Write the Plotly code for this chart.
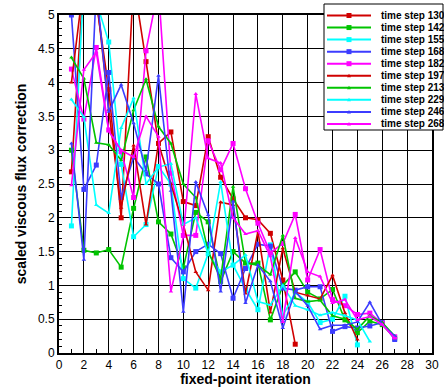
import plotly.graph_objects as go

iterations = [1, 2, 3, 4, 5, 6, 7, 8, 9, 10, 11, 12, 13, 14, 15, 16, 17, 18, 19, 20,
              21, 22, 23, 24, 25, 26, 27]

ts130 = [2.68, 5.6, 5.2, 3.9, 2.0, 5.5, 4.31, 3.1, 3.27, 2.24, 2.18, 3.2, 2.6, 2.28, 2.0,
         1.97, 1.77, 1.08, 0.13]
ts142 = [3.0, 1.52, 1.48, 1.53, 1.27, 2.14, 2.9, 1.94, 1.76, 1.26, 2.08, 1.94, 1.06, 1.5,
         1.33, 1.33, 0.49, 1.0, 1.2, 0.9, 0.8, 0.94, 0.49, 0.3, 0.47, 0.42, 0.22]
ts155 = [1.88, 5.5, 5.2, 4.6, 2.79, 1.72, 1.9, 2.76, 2.5, 1.1, 0.96, 1.47, 1.2, 1.3, 0.95,
         0.64, 1.6, 0.55, 0.9, 0.75, 0.45, 0.5, 0.84, 0.12]
ts168 = [5.0, 2.42, 2.78, 4.15, 2.3, 2.9, 2.65, 2.5, 1.41, 1.2, 1.5, 1.61, 1.47, 0.81, 1.25,
         1.61, 1.58, 0.96, 0.93, 0.98, 0.98, 0.32, 0.39, 0.37, 0.4, 0.45, 0.2]
ts182 = [4.2, 3.46, 4.52, 3.3, 2.98, 2.3, 4.47, 5.4, 2.66, 1.74, 1.74, 3.14, 2.71, 3.1, 2.43,
         1.92, 1.48, 1.62, 2.05, 1.08, 1.53, 0.79, 0.7, 0.57, 0.59, 0.44, 0.24]
ts197 = [4.0, 5.5, 5.3, 3.6, 2.15, 3.07, 1.9, 3.1, 2.5, 1.9, 1.2, 0.93, 2.23, 2.19, 0.88,
         1.8, 0.6, 1.55, 0.9, 0.85, 0.8, 1.15, 0.59, 0.2]
ts213 = [4.37, 4.06, 3.11, 3.08, 2.85, 3.59, 4.05, 3.35, 3.1, 2.5, 2.3, 1.5, 1.1, 2.46, 1.33,
         1.3, 1.16, 1.74, 0.81, 0.76, 0.78, 0.55, 0.5, 0.35, 0.55, 0.45, 0.25]
ts229 = [3.75, 3.49, 2.19, 2.07, 3.33, 3.77, 2.5, 2.75, 2.8, 1.9, 2.0, 1.47, 2.53, 1.3, 1.45,
         0.76, 0.71, 1.0, 0.7, 0.64, 0.56, 0.6, 0.55, 0.49, 0.17]
ts246 = [3.1, 1.38, 5.4, 3.57, 3.97, 3.4, 2.7, 4.1, 2.4, 0.61, 2.53, 2.04, 0.91, 2.24, 0.74,
         1.3, 1.06, 0.37, 0.91, 0.7, 0.35, 0.41, 0.41, 0.46, 0.75, 0.42, 0.25]
ts268 = [2.48, 4.19, 4.45, 3.28, 3.0, 2.9, 3.5, 3.2, 0.91, 1.72, 3.83, 2.88, 2.81, 2.0, 1.76,
         1.81, 1.43, 0.46, 1.7, 1.2, 1.13, 0.74, 0.79, 0.49, 0.54, 0.42, 0.22]

names = ["time step 130", "time step 142", "time step 155", "time step 168", "time step 182",
         "time step 197", "time step 213", "time step 229", "time step 246", "time step 268"]
series = [ts130, ts142, ts155, ts168, ts182, ts197, ts213, ts229, ts246, ts268]

RED, GREEN, CYAN, BLUE, MAG = "#d00000", "#00c400", "#00ffff", "#3c3cff", "#ff00ff"
colors = [RED, GREEN, CYAN, BLUE, MAG, RED, GREEN, CYAN, BLUE, MAG]
symbols = ["square"] * 5 + ["triangle-up"] * 5
msizes = [5] * 5 + [4] * 5

FONT = "Liberation Sans, Arial, sans-serif"
W, H = 444, 387
ML, MR, MT, MB = 59, 12, 15, 34
PW, PH = W - ML - MR, H - MT - MB

fig = go.Figure()
for name, vals, c, s, ms in zip(names, series, colors, symbols, msizes):
    fig.add_trace(go.Scatter(
        x=iterations[:len(vals)], y=vals, name=name, mode="lines+markers",
        line=dict(color=c, width=1.6),
        marker=dict(symbol=s, size=ms, color=c),
        showlegend=False,
    ))

axis_common = dict(
    showline=True, linewidth=2, linecolor="black", mirror=True, automargin=False,
    showgrid=True, gridcolor="black", gridwidth=1, zeroline=False,
    ticks="inside", tickcolor="black", tickfont=dict(family=FONT, size=12, color="black"),
)
fig.update_xaxes(range=[0, 30], dtick=2, tick0=0, ticklen=4,
                 minor=dict(dtick=1, ticks="inside", ticklen=4, tickcolor="black", showgrid=False),
                 title=dict(text="fixed-point iteration", standoff=0,
                            font=dict(family=FONT, size=14, color="black", weight="bold")),
                 **axis_common)
fig.update_yaxes(range=[0, 5], dtick=0.5, tick0=0, ticklen=3,
                 minor=dict(dtick=0.1, ticks="inside", ticklen=3, tickcolor="black", showgrid=False),
                 title=dict(text="scaled viscous flux correction", standoff=8,
                            font=dict(family=FONT, size=14, color="black", weight="bold")),
                 **axis_common)

# custom compact legend (drawn in paper coordinates)
def px2x(px):
    return (px - ML) / PW

def py2y(py):
    return (H - MB - py) / PH

shapes = [dict(type="rect", xref="paper", yref="paper",
               x0=px2x(324), x1=px2x(443), y0=py2y(130), y1=py2y(4),
               line=dict(color="black", width=1), fillcolor="white", layer="above")]
annotations = []
row0, rowstep = 15.5, 12.05
for i, (name, c, s) in enumerate(zip(names, colors, symbols)):
    py = row0 + i * rowstep
    shapes.append(dict(type="line", xref="paper", yref="paper",
                       x0=px2x(327), x1=px2x(371), y0=py2y(py), y1=py2y(py),
                       line=dict(color=c, width=2), layer="above"))
    if s == "square":
        shapes.append(dict(type="rect", xref="paper", yref="paper",
                           xsizemode="pixel", ysizemode="pixel",
                           xanchor=px2x(349), yanchor=py2y(py),
                           x0=-2.5, x1=2.5, y0=-2.5, y1=2.5,
                           line=dict(width=0), fillcolor=c, layer="above"))
    else:
        shapes.append(dict(type="path", xref="paper", yref="paper",
                           xsizemode="pixel", ysizemode="pixel",
                           xanchor=px2x(349), yanchor=py2y(py),
                           path="M -2 -1.5 L 2 -1.5 L 0 2 Z",
                           line=dict(width=0), fillcolor=c, layer="above"))
    annotations.append(dict(xref="paper", yref="paper", x=px2x(379), y=py2y(py),
                            xanchor="left", yanchor="middle", showarrow=False,
                            text=name, font=dict(family=FONT, size=10, color="black", weight="bold")))

fig.update_layout(
    width=W, height=H,
    margin=dict(l=ML, r=MR, t=MT, b=MB, pad=0, autoexpand=False),
    paper_bgcolor="white", plot_bgcolor="white",
    shapes=shapes, annotations=annotations,
    font=dict(family=FONT, color="black"),
)

fig.write_html("out.html", config={"displayModeBar": False},
               post_script="document.body.style.margin='0';document.body.style.overflow='hidden';")
